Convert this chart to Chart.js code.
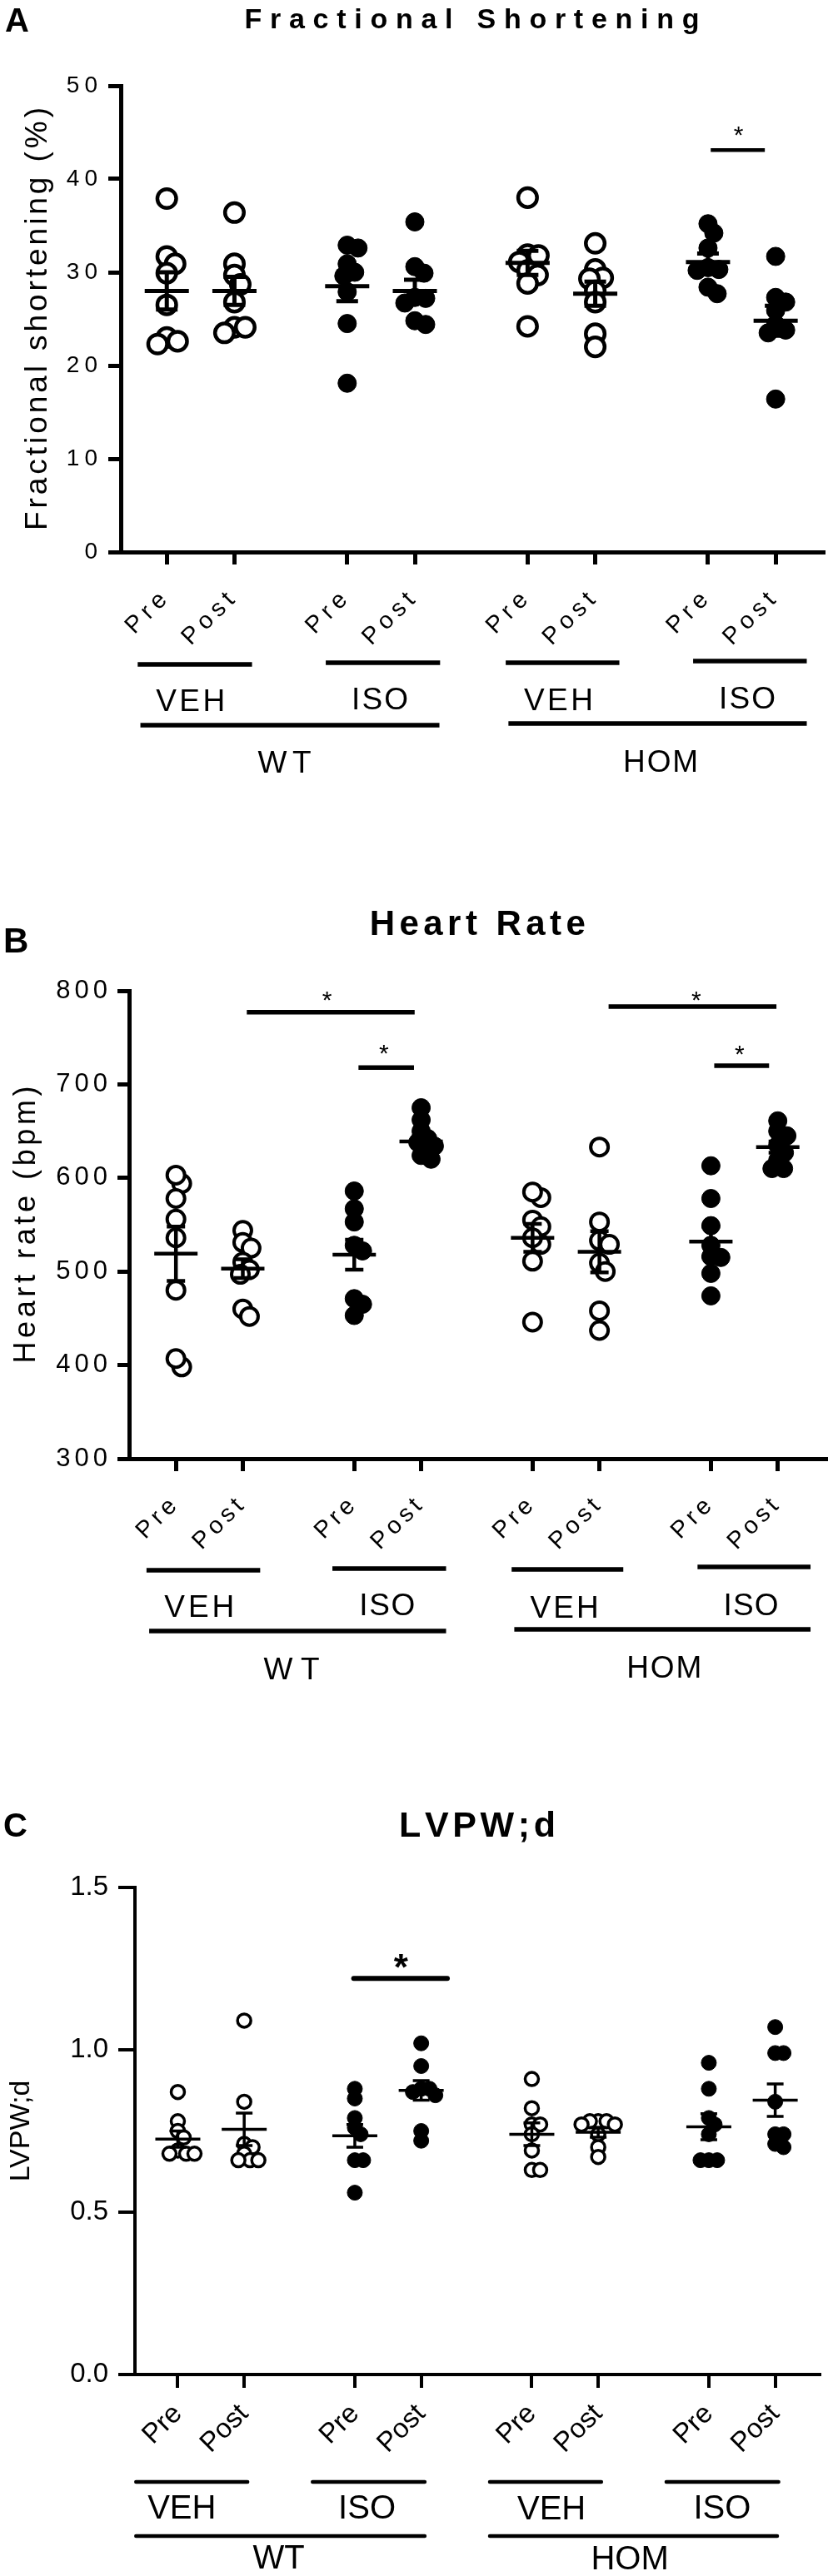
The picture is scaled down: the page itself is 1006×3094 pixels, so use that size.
<!DOCTYPE html>
<html>
<head>
<meta charset="utf-8">
<script src="https://cdn.jsdelivr.net/npm/chart.js@4.4.1/dist/chart.umd.min.js"></script>
<style>
    html, body { margin: 0; padding: 0; background: #fff; }
    .panel { position: absolute; left: 0; width: 1006px; }
</style>
</head>
<body>
<div class="panel" style="top:0;height:1000px"><canvas id="fsChart"></canvas></div>
<div class="panel" style="top:1000px;height:1050px"><canvas id="hrChart"></canvas></div>
<div class="panel" style="top:2050px;height:1044px"><canvas id="lvChart"></canvas></div>
<script>
Chart.defaults.font.family = "'Liberation Sans', Arial, sans-serif";
Chart.defaults.color = '#000';

const FONT = "'Liberation Sans', Arial, sans-serif";

// Categories
const tickLabels = ['Pre', 'Post', 'Pre', 'Post', 'Pre', 'Post', 'Pre', 'Post'];
const treatmentLabels = ['VEH', 'ISO', 'VEH', 'ISO'];
const genotypeLabels = ['WT', 'HOM'];
const filledGroups = [false, false, true, true, false, false, true, true];

// A: fractional shortening (%), one array per column
const fsValues = [
    [37.9, 31.7, 30.9, 29.9, 26.5, 23.0, 22.6, 22.3],
    [36.4, 30.9, 29.7, 28.7, 26.8, 24.1, 24.1, 23.5],
    [32.9, 32.6, 30.9, 30.0, 29.6, 27.9, 24.5, 18.1],
    [35.4, 30.6, 29.9, 27.3, 27.2, 26.7, 24.8, 24.4],
    [38.0, 31.9, 31.8, 31.1, 30.2, 29.7, 28.8, 24.2],
    [33.1, 30.3, 29.4, 29.3, 28.0, 26.8, 23.4, 22.0],
    [35.2, 34.2, 32.6, 30.5, 30.3, 30.2, 28.4, 27.7],
    [31.7, 27.3, 26.8, 25.9, 24.4, 23.8, 23.5, 16.4]
];
const fsMean = [28.0, 28.0, 28.5, 28.0, 31.0, 27.7, 31.1, 24.8];
const fsSem = [2.0, 1.5, 1.6, 1.2, 1.3, 1.3, 0.9, 1.6];

// B: heart rate (bpm)
const hrValues = [
    [594, 603, 578, 556, 536, 480, 398, 407],
    [544, 531, 525, 510, 502, 497, 460, 452],
    [586, 567, 553, 528, 522, 471, 453, 465],
    [675, 662, 650, 642, 638, 634, 624, 620],
    [579, 585, 555, 548, 529, 536, 511, 446],
    [633, 553, 533, 529, 509, 500, 458, 437],
    [613, 578, 549, 528, 516, 515, 498, 474],
    [661, 650, 645, 635, 627, 619, 610, 610]
];
const hrMean = [519, 503, 518, 639, 536, 521, 532, 633];
const hrSem = [29, 10, 16, 6, 15, 22, 16, 6];

// C: LVPW;d
const lvValues = [
    [0.87, 0.78, 0.75, 0.73, 0.69, 0.68, 0.68, 0.68],
    [1.09, 0.84, 0.71, 0.70, 0.68, 0.66, 0.66, 0.66],
    [0.88, 0.85, 0.79, 0.76, 0.74, 0.66, 0.66, 0.56],
    [1.02, 0.95, 0.88, 0.88, 0.87, 0.86, 0.75, 0.72],
    [0.91, 0.82, 0.77, 0.77, 0.74, 0.69, 0.63, 0.63],
    [0.78, 0.78, 0.78, 0.77, 0.77, 0.74, 0.70, 0.67],
    [0.96, 0.88, 0.79, 0.77, 0.74, 0.66, 0.66, 0.66],
    [1.07, 0.99, 0.99, 0.84, 0.74, 0.74, 0.71, 0.70]
];
const lvMean = [0.725, 0.755, 0.735, 0.875, 0.74, 0.746, 0.763, 0.845];
const lvSem = [0.025, 0.05, 0.035, 0.03, 0.035, 0.015, 0.04, 0.05];

// x slot of each column: Pre/Post 1 apart, groups 8/3 apart
const xSlots = tickLabels.map((_, i) => Math.floor(i / 2) * 8 / 3 + (i % 2));

// Text with optional extra letter spacing (or fitted to a width)
function drawText(ctx, str, x, y, font, o = {}) {
    ctx.save();
    if ('letterSpacing' in ctx) ctx.letterSpacing = '0px';
    ctx.font = font;
    ctx.fillStyle = '#000';
    ctx.textBaseline = 'alphabetic';
    ctx.translate(x, y);
    if (o.rotate) ctx.rotate(o.rotate);
    const chars = [...str];
    const adv = chars.map(ch => ctx.measureText(ch).width);
    const natural = adv.reduce((a, b) => a + b, 0);
    let gap = o.spacing || 0;
    if (o.width) gap = Math.max((o.width - natural) / Math.max(chars.length - 1, 1), 0);
    if (!gap) {
        ctx.textAlign = o.align || 'center';
        ctx.fillText(str, 0, 0);
    } else {
        const total = natural + gap * (chars.length - 1);
        let cx = o.align === 'left' ? 0 : -total / 2;
        ctx.textAlign = 'left';
        chars.forEach((ch, k) => { ctx.fillText(ch, cx, 0); cx += adv[k] + gap; });
    }
    ctx.restore();
}

function hLine(ctx, x0, x1, y, w, cap) {
    ctx.save();
    ctx.strokeStyle = '#000';
    ctx.lineWidth = w;
    ctx.lineCap = cap || 'butt';
    ctx.beginPath();
    ctx.moveTo(x0, y);
    ctx.lineTo(x1, y);
    ctx.stroke();
    ctx.restore();
}

// simple beeswarm so overlapping points spread sideways like Prism does
function swarm(values, slot, yPpu, xPpu, minDist) {
    const placed = [];
    const xs = new Array(values.length);
    const order = values.map((v, i) => i).sort((a, b) => values[b] - values[a]);
    order.forEach(i => {
        const py = values[i] * yPpu;
        let off = 0;
        for (let k = 0; k < 200; k++) {
            const cand = k === 0 ? 0 : (k % 2 ? 1 : -1) * Math.ceil(k / 2);
            if (placed.every(p => Math.hypot(p.x - cand, p.y - py) >= minDist)) { off = cand; break; }
        }
        placed.push({ x: off, y: py });
        xs[i] = slot + off / xPpu;
    });
    return xs;
}

function makePanel(cfg) {
    const a = cfg.area;
    const m = cfg.marker;
    const yPpu = (a.bottom - a.top) / (cfg.yMax - cfg.yMin);
    const xPpu = (a.right - a.left) / (cfg.xMax - cfg.xMin);

    const datasets = cfg.values.map((vals, i) => {
        const xs = swarm(vals, xSlots[i], yPpu, xPpu, m.minDist);
        const filled = filledGroups[i];
        return {
            label: tickLabels[i],
            data: vals.map((v, j) => ({ x: xs[j], y: v })),
            pointRadius: filled ? m.fr : m.r,
            pointBorderWidth: filled ? 1 : m.bw,
            pointBorderColor: '#000',
            pointBackgroundColor: filled ? '#000' : '#fff',
            clip: false
        };
    });

    const figurePlugin = {
        id: 'figure',
        beforeDraw(chart) {
            chart.ctx.letterSpacing = cfg.tickSpacing + 'px';
        },
        afterDatasetsDraw(chart) {
            const { ctx, scales: { x, y } } = chart;
            ctx.save();
            ctx.strokeStyle = '#000';
            ctx.lineWidth = m.errW;
            cfg.means.forEach((mean, i) => {
                const cx = x.getPixelForValue(xSlots[i]);
                const my = y.getPixelForValue(mean);
                const hi = y.getPixelForValue(mean + cfg.sems[i]);
                const lo = y.getPixelForValue(mean - cfg.sems[i]);
                ctx.beginPath();
                ctx.moveTo(cx - m.meanHalf, my); ctx.lineTo(cx + m.meanHalf, my);
                ctx.moveTo(cx, hi); ctx.lineTo(cx, lo);
                ctx.moveTo(cx - m.capHalf, hi); ctx.lineTo(cx + m.capHalf, hi);
                ctx.moveTo(cx - m.capHalf, lo); ctx.lineTo(cx + m.capHalf, lo);
                ctx.stroke();
            });
            ctx.restore();
        },
        afterDraw(chart) {
            const { ctx, chartArea, scales: { x, y } } = chart;
            const t = cfg.text;
            const midX = (chartArea.left + chartArea.right) / 2;
            const midY = (chartArea.top + chartArea.bottom) / 2;
            drawText(ctx, t.letter, t.letterX, t.letterY, 'bold ' + t.letterSize + 'px ' + FONT, { align: 'left' });
            drawText(ctx, t.title, midX, t.titleY, 'bold ' + t.titleSize + 'px ' + FONT, { width: t.titleWidth });
            drawText(ctx, t.yTitle, t.yTitleX, midY, t.yTitleSize + 'px ' + FONT,
                { rotate: -Math.PI / 2, width: t.yTitleLength });

            // significance bars and stars
            cfg.stars.forEach(s => {
                hLine(ctx, x.getPixelForValue(s.x0), x.getPixelForValue(s.x1), y.getPixelForValue(s.y), t.starLine, t.starCap);
                drawText(ctx, '*', x.getPixelForValue(s.sx), y.getPixelForValue(s.sy) + 0.575 * t.starSize, t.starFont);
            });

            // grouping bars under the axis
            const gf = t.groupSize + 'px ' + FONT;
            cfg.treat.forEach((g, i) => {
                hLine(ctx, x.getPixelForValue(g.x0), x.getPixelForValue(g.x1), g.y, t.barW, t.barCap);
                drawText(ctx, treatmentLabels[i], x.getPixelForValue(g.tx), g.ty, gf, { width: g.w });
            });
            cfg.geno.forEach((g, i) => {
                hLine(ctx, x.getPixelForValue(g.x0), x.getPixelForValue(g.x1), g.y, t.barW, t.barCap);
                drawText(ctx, genotypeLabels[i], x.getPixelForValue(g.tx), g.ty, gf, { width: g.w });
            });
        }
    };

    return new Chart(document.getElementById(cfg.id), {
        type: 'scatter',
        data: { datasets },
        options: {
            responsive: true,
            maintainAspectRatio: false,
            animation: false,
            events: [],
            layout: { padding: { left: 0, top: a.top, right: 1006 - a.right, bottom: 0 } },
            plugins: { legend: { display: false }, tooltip: { enabled: false } },
            scales: {
                x: {
                    type: 'linear',
                    min: cfg.xMin,
                    max: cfg.xMax,
                    offset: false,
                    afterBuildTicks: s => { s.ticks = xSlots.map(v => ({ value: v })); },
                    afterFit: s => { s.height = s.chart.height - a.bottom; },
                    ticks: {
                        autoSkip: false,
                        minRotation: 45,
                        maxRotation: 45,
                        padding: cfg.xPad,
                        font: { size: cfg.xTickSize },
                        color: '#000',
                        callback: (v, i) => tickLabels[i]
                    },
                    grid: { drawOnChartArea: false, drawTicks: true, tickLength: cfg.xTickLen, lineWidth: cfg.axisW, color: '#000' },
                    border: { display: true, width: cfg.axisW, color: '#000' }
                },
                y: {
                    min: cfg.yMin,
                    max: cfg.yMax,
                    afterFit: s => { s.width = a.left; },
                    ticks: {
                        stepSize: cfg.yStep,
                        padding: cfg.yPad,
                        font: { size: cfg.yTickSize },
                        color: '#000',
                        callback: v => v.toFixed(cfg.yDecimals)
                    },
                    grid: { drawOnChartArea: false, drawTicks: true, tickLength: cfg.yTickLen, lineWidth: cfg.axisW, color: '#000' },
                    border: { display: true, width: cfg.axisW, color: '#000' }
                }
            }
        },
        plugins: [figurePlugin]
    });
}

// Panel A
makePanel({
    id: 'fsChart', values: fsValues, means: fsMean, sems: fsSem,
    yMin: 0, yMax: 50, yStep: 10, yDecimals: 0,
    area: { left: 145, top: 103, right: 988, bottom: 663 },
    xMin: -0.68, xMax: 9.70,
    axisW: 5, xTickLen: 15, yTickLen: 15, xTickSize: 29, yTickSize: 28, tickSpacing: 6, xPad: 22, yPad: 7,
    marker: { r: 11.3, bw: 4.5, fr: 11, minDist: 13, meanHalf: 26.5, capHalf: 13, errW: 5 },
    text: {
        letter: 'A', letterSize: 40, letterX: 6, letterY: 38,
        title: 'Fractional Shortening', titleSize: 34, titleY: 34, titleWidth: 546,
        yTitle: 'Fractional shortening (%)', yTitleSize: 37, yTitleX: 56, yTitleLength: 508,
        starSize: 30, starFont: '30px ' + FONT, starLine: 4.5, starCap: 'butt',
        groupSize: 37, barW: 5.5, barCap: 'butt'
    },
    stars: [{ x0: 8.04, x1: 8.84, y: 43.1, sx: 8.45, sy: 45.4 }],
    treat: [
        { x0: -0.43, x1: 1.26, y: 798, tx: 0.35, ty: 854, w: 83 },
        { x0: 2.35, x1: 4.04, y: 796, tx: 3.15, ty: 852, w: 68 },
        { x0: 5.01, x1: 6.69, y: 796, tx: 5.79, ty: 853, w: 83 },
        { x0: 7.78, x1: 9.46, y: 794, tx: 8.58, ty: 851, w: 68 }
    ],
    geno: [
        { x0: -0.39, x1: 4.03, y: 871, tx: 1.74, ty: 928, w: 64 },
        { x0: 5.05, x1: 9.46, y: 869, tx: 7.30, ty: 927, w: 90 }
    ]
});

// Panel B
makePanel({
    id: 'hrChart', values: hrValues, means: hrMean, sems: hrSem,
    yMin: 300, yMax: 800, yStep: 100, yDecimals: 0,
    area: { left: 155, top: 190, right: 997, bottom: 752 },
    xMin: -0.70, xMax: 9.72,
    axisW: 5, xTickLen: 15, yTickLen: 14, xTickSize: 29, yTickSize: 31, tickSpacing: 5, xPad: 22, yPad: 7,
    marker: { r: 10.5, bw: 4, fr: 11, minDist: 12, meanHalf: 26, capHalf: 11, errW: 4.5 },
    text: {
        letter: 'B', letterSize: 42, letterX: 4, letterY: 144,
        title: 'Heart Rate', titleSize: 42, titleY: 123, titleWidth: 259,
        yTitle: 'Heart rate (bpm)', yTitleSize: 36, yTitleX: 42, yTitleLength: 333,
        starSize: 30, starFont: '30px ' + FONT, starLine: 5.5, starCap: 'butt',
        groupSize: 37, barW: 5.5, barCap: 'butt'
    },
    stars: [
        { x0: 1.06, x1: 3.57, y: 777, sx: 2.26, sy: 797 },
        { x0: 2.73, x1: 3.56, y: 718, sx: 3.11, sy: 739.5 },
        { x0: 6.47, x1: 8.98, y: 783, sx: 7.78, sy: 797 },
        { x0: 8.05, x1: 8.87, y: 720, sx: 8.43, sy: 739 }
    ],
    treat: [
        { x0: -0.44, x1: 1.26, y: 886, tx: 0.35, ty: 942, w: 84 },
        { x0: 2.34, x1: 4.04, y: 884, tx: 3.16, ty: 940, w: 67 },
        { x0: 5.02, x1: 6.69, y: 885, tx: 5.81, ty: 943, w: 82 },
        { x0: 7.80, x1: 9.49, y: 882, tx: 8.60, ty: 940, w: 66 }
    ],
    geno: [
        { x0: -0.40, x1: 4.04, y: 959, tx: 1.73, ty: 1017, w: 67 },
        { x0: 5.06, x1: 9.49, y: 957, tx: 7.30, ty: 1015, w: 90 }
    ]
});

// Panel C
makePanel({
    id: 'lvChart', values: lvValues, means: lvMean, sems: lvSem,
    yMin: 0, yMax: 1.5, yStep: 0.5, yDecimals: 1,
    area: { left: 162, top: 217, right: 984, bottom: 802 },
    xMin: -0.646, xMax: 9.67,
    axisW: 4, xTickLen: 16, yTickLen: 20, xTickSize: 33, yTickSize: 33, tickSpacing: 0, xPad: 12, yPad: 12,
    marker: { r: 8, bw: 3.5, fr: 9, minDist: 10, meanHalf: 27, capHalf: 10, errW: 3.5 },
    text: {
        letter: 'C', letterSize: 40, letterX: 4, letterY: 156,
        title: 'LVPW;d', titleSize: 43, titleY: 156, titleWidth: 188,
        yTitle: 'LVPW;d', yTitleSize: 34, yTitleX: 35, yTitleLength: 0,
        starSize: 44, starFont: 'bold 44px ' + FONT, starLine: 6, starCap: 'round',
        groupSize: 40, barW: 4.5, barCap: 'round'
    },
    stars: [{ x0: 2.65, x1: 4.06, y: 1.22, sx: 3.36, sy: 1.28 }],
    treat: [
        { x0: -0.63, x1: 1.05, y: 931, tx: 0.06, ty: 975 },
        { x0: 2.03, x1: 3.72, y: 931, tx: 2.85, ty: 975 },
        { x0: 4.70, x1: 6.38, y: 931, tx: 5.63, ty: 976 },
        { x0: 7.36, x1: 9.05, y: 931, tx: 8.20, ty: 975 }
    ],
    geno: [
        { x0: -0.63, x1: 3.72, y: 996, tx: 1.52, ty: 1035 },
        { x0: 4.70, x1: 9.03, y: 996, tx: 6.81, ty: 1036 }
    ]
});
</script>
</body>
</html>
